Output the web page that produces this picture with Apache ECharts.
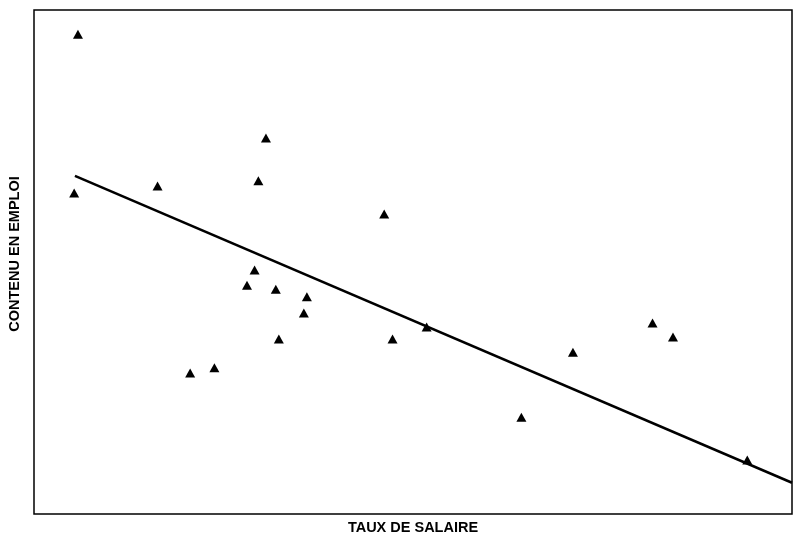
<!DOCTYPE html>
<html><head><meta charset="utf-8">
<script src="https://cdn.jsdelivr.net/npm/echarts@6/dist/echarts.min.js"></script>
<style>html,body{margin:0;padding:0;background:#fff}#c{width:793px;height:535px}</style>
</head><body><div id="c"></div>
<script>
var xName = 'TAUX DE SALAIRE';
var yName = 'CONTENU EN EMPLOI';
var pointsX = [5.8, 5.3, 16.3, 30.6, 29.6, 46.2, 29.1, 28.1, 31.9, 36.0, 35.6, 32.3, 20.6, 23.8, 47.3, 51.8, 64.3, 71.1, 81.6, 84.3, 94.1];
var pointsY = [95.2, 63.7, 65.1, 74.6, 66.1, 59.5, 48.4, 45.4, 44.6, 43.1, 39.9, 34.7, 28.0, 29.0, 34.7, 37.1, 19.2, 32.1, 37.9, 35.1, 10.7];
var fitX = [5.4, 100];
var fitY = [67.1, 6.2];

var pts = pointsX.map(function(x, i){ return [x, pointsY[i]]; });
var fit = fitX.map(function(x, i){ return [x, fitY[i]]; });
var chart = echarts.init(document.getElementById('c'));
chart.setOption({
  animation: false,
  backgroundColor: '#fff',
  grid: {left: 34, right: 1, top: 10, bottom: 21, outerBoundsMode: 'none', containLabel: false, show: true, borderColor: '#000', borderWidth: 1.5, backgroundColor: 'transparent'},
  xAxis: {type: 'value', min: 0, max: 100, name: xName, nameLocation: 'middle', nameGap: 6,
    nameTextStyle: {fontFamily: 'Liberation Sans', fontWeight: 'bold', fontSize: 14.5, color: '#000'},
    axisLine: {show: false}, axisTick: {show: false}, axisLabel: {show: false}, splitLine: {show: false}},
  yAxis: {type: 'value', min: 0, max: 100, name: yName, nameLocation: 'middle', nameGap: 12, nameRotate: 90,
    nameTextStyle: {fontFamily: 'Liberation Sans', fontWeight: 'bold', fontSize: 14.5, color: '#000', padding: [0, 0, 0, 16]},
    axisLine: {show: false}, axisTick: {show: false}, axisLabel: {show: false}, splitLine: {show: false}},
  series: [
    {type: 'line', data: fit, symbol: 'none', lineStyle: {color: '#000', width: 2.5}, z: 2},
    {type: 'scatter', data: pts, symbol: 'triangle', symbolSize: [10, 9], itemStyle: {color: '#000', opacity: 1}, z: 3}
  ]
});
</script></body></html>
